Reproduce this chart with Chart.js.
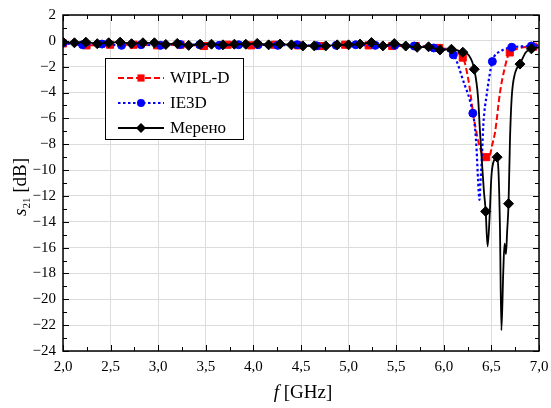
<!DOCTYPE html>
<html>
<head>
<meta charset="utf-8">
<script src="https://cdn.jsdelivr.net/npm/chart.js@4.4.1/dist/chart.umd.min.js"></script>
<style>
  html, body { margin: 0; padding: 0; background: #fff; }
  #wrap { width: 551px; height: 408px; }
</style>
</head>
<body>
<div id="wrap"><canvas id="chart" width="551" height="408"></canvas></div>
<script>
// axis ticks
const xTicks = [2.0, 2.5, 3.0, 3.5, 4.0, 4.5, 5.0, 5.5, 6.0, 6.5, 7.0];
const yTicks = [2, 0, -2, -4, -6, -8, -10, -12, -14, -16, -18, -20, -22, -24];

// Мерено (measured) - marker points
const measF = [2.00, 2.12, 2.24, 2.36, 2.48, 2.60, 2.72, 2.84, 2.96, 3.08, 3.20, 3.32, 3.44, 3.56,
  3.68, 3.80, 3.92, 4.04, 4.16, 4.28, 4.40, 4.52, 4.64, 4.76, 4.88, 5.00, 5.12, 5.24, 5.36, 5.48,
  5.60, 5.72, 5.84, 5.96, 6.08, 6.20, 6.32, 6.44, 6.56, 6.68, 6.80, 6.92];
const measDb = [-0.1, -0.15, -0.1, -0.22, -0.15, -0.1, -0.22, -0.15, -0.15, -0.28, -0.2, -0.35, -0.26, -0.26,
  -0.31, -0.26, -0.26, -0.2, -0.31, -0.25, -0.31, -0.39, -0.39, -0.39, -0.31, -0.31, -0.25, -0.13, -0.39, -0.21,
  -0.4, -0.5, -0.46, -0.7, -0.65, -0.88, -2.2, -13.2, -9.0, -12.6, -1.8, -0.62];
// measured - curve points between markers
const measExF = [6.26, 6.36, 6.38, 6.40, 6.42, 6.46, 6.48, 6.50, 6.53, 6.575, 6.59, 6.605, 6.625, 6.638, 6.653, 6.665, 6.695, 6.713, 6.748, 6.86, 7.0];
const measExDb = [-1.1, -4.4, -7.0, -9.3, -11.5, -15.9, -13.8, -10.5, -9.2, -10.2, -14.5, -22.4, -17.8, -15.7, -16.5, -14.8, -7.7, -4.4, -2.5, -0.9, -0.5];

// IE3D - marker points
const ie3dF = [2.0, 2.205, 2.41, 2.615, 2.82, 3.025, 3.23, 3.435, 3.64, 3.845, 4.05, 4.255, 4.46,
  4.665, 4.87, 5.075, 5.28, 5.485, 5.69, 5.895, 6.10, 6.305, 6.51, 6.715, 6.92];
const ie3dDb = [-0.15, -0.3, -0.25, -0.35, -0.3, -0.35, -0.28, -0.3, -0.35, -0.3, -0.3, -0.35, -0.3,
  -0.38, -0.35, -0.3, -0.35, -0.35, -0.4, -0.55, -1.08, -5.6, -1.6, -0.5, -0.4];
const ie3dExF = [6.20, 6.33, 6.345, 6.36, 6.375, 6.385, 6.40, 6.415, 6.45, 6.60, 7.0];
const ie3dExDb = [-3.0, -6.9, -8.5, -10.8, -12.3, -11.0, -9.0, -6.5, -4.2, -0.8, -0.35];

// WIPL-D - marker points
const wiplF = [2.0, 2.247, 2.494, 2.741, 2.988, 3.235, 3.482, 3.729, 3.976, 4.223, 4.47, 4.717, 4.964,
  5.211, 5.458, 5.705, 5.952, 6.199, 6.446, 6.693, 6.94];
const wiplDb = [-0.2, -0.35, -0.3, -0.3, -0.35, -0.3, -0.4, -0.3, -0.35, -0.3, -0.35, -0.4, -0.3,
  -0.35, -0.4, -0.4, -0.55, -1.3, -9.0, -0.9, -0.45];
const wiplExF = [6.26, 6.31, 6.36, 6.40, 6.43, 6.48, 6.51, 6.54, 6.59, 6.64, 7.0];
const wiplExDb = [-3.1, -5.7, -7.7, -8.7, -9.1, -8.9, -8.0, -7.0, -4.0, -2.1, -0.4];

const serif = "'Liberation Serif', 'Times New Roman', serif";

function buildPoints(mf, md, ef, ed) {
  const pts = mf.map((f, i) => ({ x: f, y: md[i], m: true }));
  ef.forEach((f, i) => pts.push({ x: f, y: ed[i], m: false }));
  pts.sort((a, b) => a.x - b.x);
  return pts;
}

function makeSet(label, pts, color, style, radius, dash, width) {
  return {
    label: label,
    data: pts,
    showLine: true,
    borderColor: color,
    backgroundColor: color,
    borderWidth: width,
    borderDash: dash,
    cubicInterpolationMode: 'monotone',
    pointStyle: style,
    pointRadius: pts.map(p => p.m ? radius : 0),
    pointBorderWidth: 1,
    pointHoverRadius: 0
  };
}

const measPts = buildPoints(measF, measDb, measExF, measExDb);
const ie3dPts = buildPoints(ie3dF, ie3dDb, ie3dExF, ie3dExDb);
const wiplPts = buildPoints(wiplF, wiplDb, wiplExF, wiplExDb);

const legendItems = [
  { label: 'WIPL-D', color: '#ff0000', dash: [6, 3], width: 2, marker: 'square' },
  { label: 'IE3D', color: '#0000ff', dash: [2.5, 2.5], width: 2.2, marker: 'circle' },
  { label: 'Мерено', color: '#000000', dash: [], width: 1.8, marker: 'diamond' }
];

function drawMarker(ctx, kind, x, y, color) {
  ctx.save();
  ctx.fillStyle = color;
  ctx.beginPath();
  if (kind === 'square') {
    ctx.rect(x - 3.6, y - 3.6, 7.2, 7.2);
  } else if (kind === 'circle') {
    ctx.arc(x, y, 4, 0, Math.PI * 2);
  } else {
    ctx.moveTo(x, y - 5); ctx.lineTo(x + 5, y); ctx.lineTo(x, y + 5); ctx.lineTo(x - 5, y);
    ctx.closePath();
  }
  ctx.fill();
  ctx.restore();
}

const framePlugin = {
  id: 'frame',
  afterDraw(chart) {
    const ctx = chart.ctx;
    const a = chart.chartArea;
    const xs = chart.scales.x, ys = chart.scales.y;
    ctx.save();
    ctx.strokeStyle = '#000';
    ctx.lineWidth = 1;
    // inward ticks
    ctx.beginPath();
    for (let i = 0; i <= 20; i++) {
      const v = 2 + i * 0.25;
      const px = Math.round(xs.getPixelForValue(v)) + 0.5;
      const len = i % 2 === 0 ? 6 : 4;
      ctx.moveTo(px, a.bottom); ctx.lineTo(px, a.bottom - len);
      ctx.moveTo(px, a.top); ctx.lineTo(px, a.top + len);
    }
    for (let v = -24; v <= 2; v++) {
      const py = Math.round(ys.getPixelForValue(v)) + 0.5;
      const len = v % 2 === 0 ? 6 : 4;
      ctx.moveTo(a.left, py); ctx.lineTo(a.left + len, py);
      ctx.moveTo(a.right, py); ctx.lineTo(a.right - len, py);
    }
    ctx.stroke();
    // frame
    ctx.lineWidth = 1.5;
    ctx.strokeRect(a.left, a.top, a.right - a.left, a.bottom - a.top);

    // legend box
    const bx = 105, by = 58, bw = 138, bh = 81;
    ctx.fillStyle = '#fff';
    ctx.fillRect(bx, by, bw, bh);
    ctx.lineWidth = 1;
    ctx.strokeStyle = '#000';
    ctx.strokeRect(bx + 0.5, by + 0.5, bw, bh);
    legendItems.forEach((it, i) => {
      const y = 78 + i * 25;
      ctx.save();
      ctx.strokeStyle = it.color;
      ctx.lineWidth = it.width;
      ctx.setLineDash(it.dash);
      ctx.beginPath();
      ctx.moveTo(118, y); ctx.lineTo(164, y);
      ctx.stroke();
      ctx.restore();
      drawMarker(ctx, it.marker, 141, y, it.color);
      ctx.fillStyle = '#000';
      ctx.font = '17px ' + serif;
      ctx.textAlign = 'left';
      ctx.textBaseline = 'middle';
      ctx.fillText(it.label, 170, y + 1);
    });

    // x axis title: f [GHz]
    ctx.fillStyle = '#000';
    ctx.textBaseline = 'alphabetic';
    ctx.textAlign = 'left';
    ctx.font = 'italic 19px ' + serif;
    const fW = ctx.measureText('f').width;
    ctx.font = '19px ' + serif;
    const gW = ctx.measureText(' [GHz]').width;
    const cx = (a.left + a.right) / 2 + 2;
    const startX = cx - (fW + gW) / 2;
    ctx.font = 'italic 19px ' + serif;
    ctx.fillText('f', startX, 398);
    ctx.font = '19px ' + serif;
    ctx.fillText(' [GHz]', startX + fW, 398);

    // y axis title: s21 [dB]
    ctx.save();
    ctx.translate(26, (a.top + a.bottom) / 2 + 4);
    ctx.rotate(-Math.PI / 2);
    ctx.font = 'italic 19px ' + serif;
    const sW = ctx.measureText('s').width;
    ctx.font = '11px ' + serif;
    const subW = ctx.measureText('21').width;
    ctx.font = '19px ' + serif;
    const dW = ctx.measureText(' [dB]').width;
    let tx = -(sW + subW + dW) / 2;
    ctx.font = 'italic 19px ' + serif;
    ctx.fillText('s', tx, 0);
    tx += sW;
    ctx.font = '11px ' + serif;
    ctx.fillText('21', tx, 4);
    tx += subW;
    ctx.font = '19px ' + serif;
    ctx.fillText(' [dB]', tx, 0);
    ctx.restore();

    ctx.restore();
  }
};

new Chart(document.getElementById('chart'), {
  type: 'scatter',
  data: {
    datasets: [
      makeSet('Мерено', measPts, '#000000', 'rectRot', 5, [], 1.8),
      makeSet('IE3D', ie3dPts, '#0000ff', 'circle', 4, [2.5, 2.5], 2.2),
      makeSet('WIPL-D', wiplPts, '#ff0000', 'rect', 5, [6, 3], 2)
    ]
  },
  options: {
    responsive: false,
    animation: false,
    devicePixelRatio: 1,
    layout: { padding: { top: 15, right: 12, left: 0, bottom: 0 } },
    plugins: {
      legend: { display: false },
      tooltip: { enabled: false }
    },
    scales: {
      x: {
        type: 'linear',
        min: 2,
        max: 7,
        afterBuildTicks: s => { s.ticks = xTicks.map(v => ({ value: v })); },
        afterFit: s => { s.height = 57; s.paddingLeft = 0; s.paddingRight = 0; },
        ticks: {
          autoSkip: false,
          maxRotation: 0,
          padding: 7,
          color: '#000',
          font: { family: serif, size: 15 },
          callback: v => Number(v).toFixed(1).replace('.', ',')
        },
        grid: { color: '#dcdcdc', lineWidth: 1, drawTicks: false },
        border: { display: false }
      },
      y: {
        min: -24,
        max: 2,
        afterBuildTicks: s => { s.ticks = yTicks.map(v => ({ value: v })); },
        afterFit: s => { s.width = 63; s.paddingTop = 0; s.paddingBottom = 0; },
        ticks: {
          autoSkip: false,
          padding: 7,
          color: '#000',
          font: { family: serif, size: 15 },
          callback: v => v < 0 ? '\u2212' + Math.abs(v) : String(v)
        },
        grid: { color: '#dcdcdc', lineWidth: 1, drawTicks: false },
        border: { display: false }
      }
    }
  },
  plugins: [framePlugin]
});
</script>
</body>
</html>
